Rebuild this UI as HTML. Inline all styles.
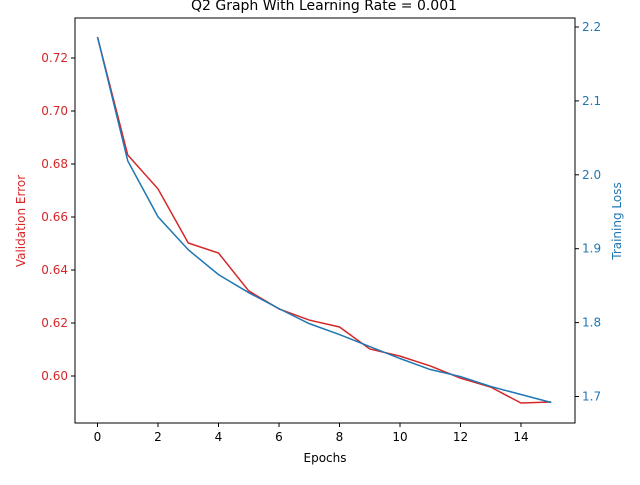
<!DOCTYPE html>
<html><head><meta charset="utf-8"><style>
body{margin:0;background:#fff;}
svg text{font-family:"DejaVu Sans","Liberation Sans",sans-serif;font-size:12px;}
</style></head><body>
<svg id="chart" width="640" height="480" xmlns="http://www.w3.org/2000/svg"></svg>
<script>
const epochs=[0,1,2,3,4,5,6,7,8,9,10,11,12,13,14,15];
const valError=[0.7279,0.6834,0.6706,0.6502,0.6464,0.6321,0.6253,0.6211,0.6185,0.6102,0.6075,0.6038,0.5992,0.5958,0.5898,0.5902];
const trainLoss=[2.1865,2.0189,1.9432,1.8986,1.8649,1.8405,1.8189,1.7986,1.7838,1.7676,1.7514,1.7365,1.727,1.7135,1.7027,1.6919];
const xTicks=[0,2,4,6,8,10,12,14];
const leftTicks=[0.60,0.62,0.64,0.66,0.68,0.70,0.72];
const rightTicks=[1.7,1.8,1.9,2.0,2.1,2.2];

const L=75,R=575,T=18,B=423;
const xs=v=>97.5+v*(521-97.5)/14;
const yl=v=>376+(v-0.60)*(58-376)/0.12;
const yr=v=>396.5+(v-1.7)*(27-396.5)/0.5;
const svg=document.getElementById('chart');
const NS='http://www.w3.org/2000/svg';
function mk(tag,attrs,parent){const e=document.createElementNS(NS,tag);for(const k in attrs)e.setAttribute(k,attrs[k]);(parent||svg).appendChild(e);return e;}

const red='#d62728',blue='#1f77b4';
let t=mk('text',{x:324,y:10,'text-anchor':'middle'});t.textContent='Q2 Graph With Learning Rate = 0.001';t.style.fontSize='14px';



xTicks.forEach(v=>{
  const x=xs(v);
  const l=mk('line',{x1:x,x2:x,y1:B,y2:B+4,stroke:'#000'});
  
  
  const tx=mk('text',{x:x,y:B+18,'text-anchor':'middle'});tx.textContent=v;
  
  
});
leftTicks.forEach(v=>{
  const y=yl(v);
  const l=mk('line',{x1:L-4,x2:L,y1:y,y2:y,stroke:'#000'});
  
  
  const tx=mk('text',{x:L-7,y:y+4,'text-anchor':'end',fill:red});tx.textContent=v.toFixed(2);
  
  
});
rightTicks.forEach(v=>{
  const y=yr(v);
  const l=mk('line',{x1:R,x2:R+4,y1:y,y2:y,stroke:'#000'});
  
  
  const tx=mk('text',{x:R+7,y:y+4,'text-anchor':'start',fill:blue});tx.textContent=v.toFixed(1);
  
  
});

const p1=mk('polyline',{points:epochs.map((e,i)=>xs(e)+','+yl(valError[i])).join(' '),fill:'none',stroke:red,'stroke-width':1.5});


const p2=mk('polyline',{points:epochs.map((e,i)=>xs(e)+','+yr(trainLoss[i])).join(' '),fill:'none',stroke:blue,'stroke-width':1.5});



const fr=mk('rect',{x:L,y:T,width:R-L,height:B-T,fill:'none',stroke:'#000','stroke-width':1});



let xl=mk('text',{x:(L+R)/2,y:462,'text-anchor':'middle'});xl.textContent='Epochs';


let ylt=mk('text',{x:25,y:221,'text-anchor':'middle',fill:red,transform:'rotate(-90 25 221)'});ylt.textContent='Validation Error';


let yrt=mk('text',{x:621,y:221,'text-anchor':'middle',fill:blue,transform:'rotate(-90 621 221)'});yrt.textContent='Training Loss';


</script>
</body></html>
